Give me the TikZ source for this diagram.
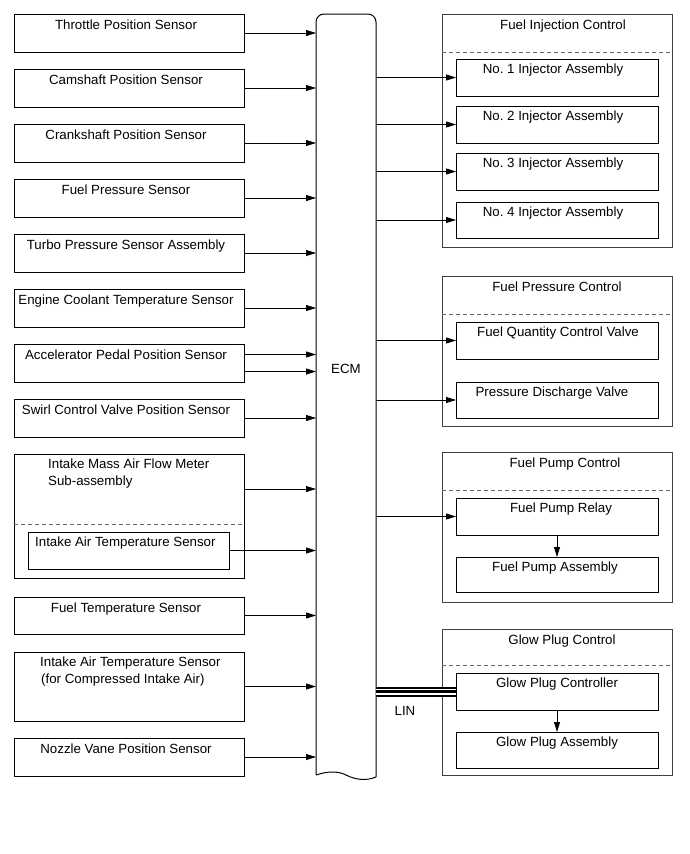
\documentclass[tikz,border=0pt]{standalone}
\usepackage{fontspec}
\setmainfont{Liberation Sans}
\usetikzlibrary{arrows.meta}
\frenchspacing
\tikzset{
  box/.style={draw, line width=0.9pt, inner sep=0pt, outer sep=0pt, anchor=north west},
  grp/.style={draw=black!75, line width=1pt, inner sep=0pt, outer sep=0pt, anchor=north west},
  sep/.style={draw=black!60, dash pattern=on 4pt off 3pt, line width=0.6pt},
  arr/.style={-{Triangle[length=10pt,width=6pt]}, line width=0.8pt},
  lbl/.style={font=\fontsize{13.3}{16}\selectfont, anchor=base, inner sep=0pt},
  lbll/.style={lbl, anchor=base west},
}
% name, top, height, text
\newcommand\leftbox[4]{%
  \node[box, minimum width=230pt, minimum height=#3pt] (#1) at (14,#2) {};
  \node[lbl] (#1t) at (126,#2+15) {#4};}
% name, top, height, text-x, text
\newcommand\rightbox[5]{%
  \node[box, minimum width=202pt, minimum height=#3pt] (#1) at (456,#2) {};
  \node[lbl] (#1t) at (#4,#2+14) {#5};}
% name, top, height, dashed-y, text-x, title
\newcommand\groupbox[6]{%
  \node[grp, minimum width=230pt, minimum height=#3pt] (#1) at (442,#2) {};
  \draw[sep] (#1.west |- 0,#4) -- (#1.east |- 0,#4);
  \node[lbl] (#1t) at (#5,#2+15) {#6};}
\begin{document}
\begin{tikzpicture}[x=1pt,y=-1pt]
\useasboundingbox (0,0) rectangle (690,854);

% ECM
\node[inner sep=0pt, outer sep=0pt, minimum width=60pt, minimum height=762pt, anchor=north west] (ecm) at (316,14) {};
\draw[line width=1pt, rounded corners=8pt] (ecm.west |- 0,775) -- (ecm.north west) -- (ecm.north east) -- (ecm.east |- 0,777);
\draw[line width=1pt] (ecm.east |- 0,777) .. controls (366,781) and (356,780) .. (346,775) .. controls (338,771) and (328,771) .. (ecm.west |- 0,775);
\node[lbl] (ecmt) at (346,373) {ECM};

% Left sensors
\leftbox{tps}{14}{38}{Throttle Position Sensor}
\leftbox{cam}{69}{38}{Camshaft Position Sensor}
\leftbox{crk}{124}{38}{Crankshaft Position Sensor}
\leftbox{fps}{179}{38}{Fuel Pressure Sensor}
\leftbox{tur}{234}{38}{Turbo Pressure Sensor Assembly}
\leftbox{ect}{289}{38}{Engine Coolant Temperature Sensor}
\leftbox{app}{344}{38}{Accelerator Pedal Position Sensor}
\leftbox{scv}{399}{38}{Swirl Control Valve Position Sensor}
\node[box, minimum width=230pt, minimum height=124pt] (maf) at (14,454) {};
\node[lbll] (maft1) at (48,468) {Intake Mass Air Flow Meter};
\node[lbll] (maft2) at (48,485) {Sub-assembly};
\draw[sep] (maf.west |- 0,524) -- (maf.east |- 0,524);
\node[box, minimum width=201pt, minimum height=37pt] (iat) at (28.5,532) {};
\node[lbll] (iatt) at (35,546) {Intake Air Temperature Sensor};
\leftbox{fts}{597}{37}{Fuel Temperature Sensor}
\node[box, minimum width=230pt, minimum height=69pt] (iac) at (14,652) {};
\node[lbll] (iact1) at (40,666) {Intake Air Temperature Sensor};
\node[lbll] (iact2) at (41,683) {(for Compressed Intake Air)};
\leftbox{nvp}{738}{38}{Nozzle Vane Position Sensor}

% Left arrows
\foreach \n in {tps,cam,crk,fps,tur,ect,scv,iat,fts,iac,nvp}
  \draw[arr] (\n.east) -- (\n.east -| ecm.west);
\draw[arr] ([yshift=8.5pt]app.east) -- ([yshift=8.5pt]app.east -| ecm.west);
\draw[arr] ([yshift=-8.5pt]app.east) -- ([yshift=-8.5pt]app.east -| ecm.west);
\coordinate (maf1) at (maf.east |- 0,489);
\draw[arr] (maf1) -- (maf1 -| ecm.west);

% Right groups
\groupbox{fic}{14}{233}{52}{563}{Fuel Injection Control}
\rightbox{inja}{59}{37}{553}{No. 1 Injector Assembly}
\rightbox{injb}{106}{37}{553}{No. 2 Injector Assembly}
\rightbox{injc}{153}{37}{553}{No. 3 Injector Assembly}
\rightbox{injd}{202}{36}{553}{No. 4 Injector Assembly}

\groupbox{fpc}{276}{150}{314}{557}{Fuel Pressure Control}
\rightbox{fqcv}{322}{37}{558}{Fuel Quantity Control Valve}
\rightbox{pdv}{382}{36}{552}{Pressure Discharge Valve}

\groupbox{fpm}{452}{150}{490}{565}{Fuel Pump Control}
\rightbox{fpr}{498}{37}{561}{Fuel Pump Relay}
\rightbox{fpa}{557}{35}{555}{Fuel Pump Assembly}

\groupbox{gpc}{629}{146}{665}{562}{Glow Plug Control}
\rightbox{gpr}{673}{37}{557}{Glow Plug Controller}
\rightbox{gpa}{732}{36}{557}{Glow Plug Assembly}

% Right arrows
\foreach \n in {inja,injb,injc,injd,fqcv,pdv,fpr}
  \draw[arr] (\n.west -| ecm.east) -- (\n.west);
\draw[arr] (fpr.south) -- (fpa.north);
\draw[arr] (gpr.south) -- (gpa.north);

% LIN bus
\draw[line width=10pt] (gpr.west -| ecm.east) -- (gpr.west);
\draw[line width=6pt, white] (gpr.west -| ecm.east) -- (gpr.west);
\draw[line width=3.5pt] (gpr.west -| ecm.east) -- (gpr.west);
\node[lbl] (lin) at (405,715) {LIN};
\end{tikzpicture}
\end{document}
